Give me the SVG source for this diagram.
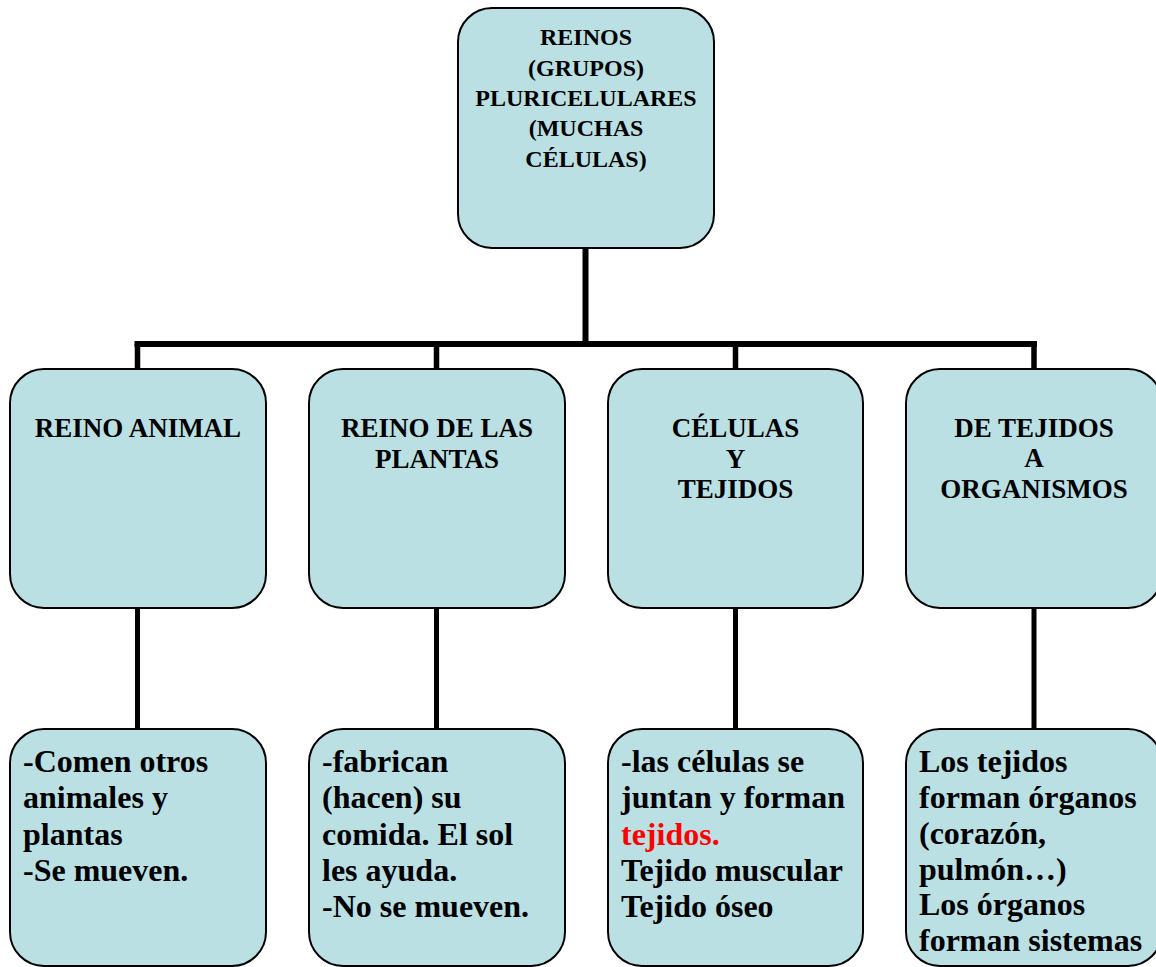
<svg xmlns="http://www.w3.org/2000/svg" width="1156" height="967" viewBox="0 0 1156 967">
<style>
.box{fill:#BAE0E4;stroke:#000;stroke-width:2}
.t{font-family:"Liberation Serif","Times New Roman",serif;font-weight:bold;fill:#000}
.top{font-size:24px;text-anchor:middle}
.mid{font-size:27px;text-anchor:middle}
.bot{font-size:32px}
.red{fill:#FF0000}
.c{stroke:#000;fill:none}
</style>
<rect width="1156" height="967" fill="#fff"/>
<g id="connectors">
<line class="c" x1="585.5" y1="248" x2="585.5" y2="344" stroke-width="6"/>
<line class="c" x1="134.5" y1="344" x2="1037" y2="344" stroke-width="6"/>
<line class="c" x1="137.5" y1="344" x2="137.5" y2="369" stroke-width="5.5"/>
<line class="c" x1="436.5" y1="344" x2="436.5" y2="369" stroke-width="5.5"/>
<line class="c" x1="735.5" y1="344" x2="735.5" y2="369" stroke-width="5.5"/>
<line class="c" x1="1034" y1="344" x2="1034" y2="369" stroke-width="5.5"/>
<line class="c" x1="137.5" y1="608" x2="137.5" y2="729" stroke-width="5"/>
<line class="c" x1="436.5" y1="608" x2="436.5" y2="729" stroke-width="5"/>
<line class="c" x1="735.5" y1="608" x2="735.5" y2="729" stroke-width="5"/>
<line class="c" x1="1034" y1="608" x2="1034" y2="729" stroke-width="5"/>
</g>
<g id="root">
<rect class="box" x="458" y="8" width="256" height="240" rx="34"/>
<text class="t top" x="586" y="45">REINOS</text>
<text class="t top" x="586" y="75.5">(GRUPOS)</text>
<text class="t top" x="586" y="106">PLURICELULARES</text>
<text class="t top" x="586" y="136">(MUCHAS</text>
<text class="t top" x="586" y="167">CÉLULAS)</text>
</g>
<g id="reino-animal">
<rect class="box" x="10" y="369" width="256" height="239" rx="34"/>
<text class="t mid" x="138" y="437">REINO ANIMAL</text>
</g>
<g id="reino-plantas">
<rect class="box" x="309" y="369" width="256" height="239" rx="34"/>
<text class="t mid" x="437" y="437">REINO DE LAS</text>
<text class="t mid" x="437" y="468">PLANTAS</text>
</g>
<g id="celulas-tejidos">
<rect class="box" x="608" y="369" width="255" height="239" rx="34"/>
<text class="t mid" x="735.5" y="437">CÉLULAS</text>
<text class="t mid" x="735.5" y="467.5">Y</text>
<text class="t mid" x="735.5" y="498">TEJIDOS</text>
</g>
<g id="tejidos-organismos">
<rect class="box" x="906" y="369" width="256" height="239" rx="34"/>
<text class="t mid" x="1034" y="436.5">DE TEJIDOS</text>
<text class="t mid" x="1034" y="467">A</text>
<text class="t mid" x="1034" y="498">ORGANISMOS</text>
</g>
<g id="animal-desc">
<rect class="box" x="10" y="729" width="256" height="237" rx="34"/>
<text class="t bot" x="23" y="771.5">-Comen otros</text>
<text class="t bot" x="23" y="808">animales y</text>
<text class="t bot" x="23" y="844.5">plantas</text>
<text class="t bot" x="23" y="881">-Se mueven.</text>
</g>
<g id="plantas-desc">
<rect class="box" x="309" y="729" width="256" height="237" rx="34"/>
<text class="t bot" x="322" y="771.5">-fabrican</text>
<text class="t bot" x="322" y="808">(hacen) su</text>
<text class="t bot" x="322" y="844.5">comida. El sol</text>
<text class="t bot" x="322" y="881">les ayuda.</text>
<text class="t bot" x="322" y="917">-No se mueven.</text>
</g>
<g id="celulas-desc">
<rect class="box" x="608" y="729" width="255" height="237" rx="34"/>
<text class="t bot" x="621" y="771.5">-las células se</text>
<text class="t bot" x="621" y="808">juntan y forman</text>
<text class="t bot red" x="621" y="844.5">tejidos.</text>
<text class="t bot" x="621" y="881">Tejido muscular</text>
<text class="t bot" x="621" y="917">Tejido óseo</text>
</g>
<g id="organismos-desc">
<rect class="box" x="906" y="729" width="256" height="237" rx="34"/>
<text class="t bot" x="919" y="771.5">Los tejidos</text>
<text class="t bot" x="919" y="807.5">forman órganos</text>
<text class="t bot" x="919" y="843.5">(corazón,</text>
<text class="t bot" x="919" y="879.5">pulmón…)</text>
<text class="t bot" x="919" y="915">Los órganos</text>
<text class="t bot" x="919" y="951">forman sistemas</text>
</g>
</svg>
